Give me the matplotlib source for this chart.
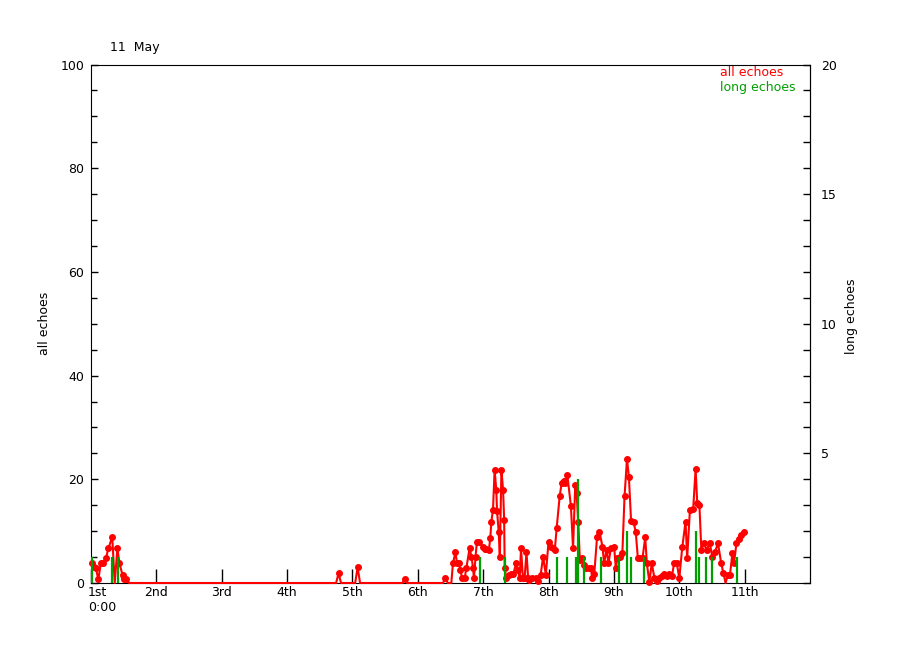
import numpy as np
import matplotlib
matplotlib.use('Agg')
import matplotlib.pyplot as plt
import matplotlib.transforms as mtransforms
from matplotlib.ticker import MultipleLocator, FuncFormatter

# all echoes: time (hours since 1st 0:00) and counts
t_all = [0.2, 1.1, 1.8, 2.7, 3.6, 4.5, 5.5, 6.4, 7.8, 8.7, 9.7, 10.4, 11.6, 12.1, 12.9, 14.0,
         90.0, 90.9, 91.8, 97.0, 97.9, 98.8, 114.3, 115.2, 116.1, 129.2, 130.1, 131.0, 132.3,
         132.9, 133.8, 134.4, 135.1, 135.6, 136.3, 137.2, 137.8, 139.0, 139.7, 140.3, 140.6,
         141.2, 141.7, 142.6, 143.9, 144.5, 145.1, 146.1, 146.6, 147.0, 147.6, 148.2, 148.8,
         149.1, 149.7, 150.1, 150.7, 151.3, 151.7, 151.9, 152.5, 153.3, 154.2, 155.1, 156.1,
         156.8, 157.4, 157.9, 158.6, 159.2, 159.9, 160.5, 161.0, 162.1, 163.3, 164.2, 165.1,
         166.0, 167.0, 168.0, 168.8, 169.7, 170.3, 171.0, 172.1, 172.8, 173.5, 174.1, 174.9,
         176.2, 177.0, 177.8, 178.3, 178.9, 179.5, 180.2, 181.1, 181.9, 182.9, 183.5, 184.1,
         184.8, 185.8, 186.7, 187.8, 188.4, 189.3, 190.0, 190.9, 192.1, 192.7, 193.3, 194.3,
         195.1, 195.9, 196.8, 197.5, 198.3, 199.2, 200.0, 200.8, 201.6, 202.5, 203.5, 204.1,
         205.0, 205.9, 206.9, 207.8, 208.6, 209.6, 210.5, 211.4, 212.3, 213.3, 214.1, 215.1,
         216.0, 217.1, 218.3, 218.9, 219.9, 221.1, 222.0, 222.6, 223.4, 224.1, 225.0, 226.0,
         227.2, 228.1, 229.1, 230.2, 231.4, 232.2, 233.0, 233.8, 234.6, 235.5, 236.1, 237.0,
         237.9, 238.8, 239.7]
n_all = [3.9, 3.0, 2.8, 0.7, 3.8, 3.8, 4.8, 6.7, 8.9, 0.0, 6.7, 3.9, 1.5, 0.8, 0.8, 0.0,
         0.0, 1.9, 0.0, 0.0, 3.0, 0.0, 0.0, 0.7, 0.0, 0.0, 0.9, 0.0, 0.0,
         3.8, 5.9, 3.8, 3.8, 2.5, 0.9, 0.9, 2.8, 6.7, 5.1, 2.8, 0.9,
         5.1, 8.0, 8.0, 6.9, 6.5, 6.5, 6.4, 8.6, 11.8, 14.1, 21.8, 18.0,
         13.8, 9.9, 5.1, 21.8, 18.0, 12.2, 2.8, 0.9, 1.6, 1.8, 1.8, 3.8,
         2.5, 0.9, 6.7, 0.9, 0.9, 5.9, 1.0, 0.6, 0.9, 0.9, 0.3, 1.6,
         5.0, 1.6, 8.0, 7.0, 6.7, 6.4, 10.7, 16.8, 19.2, 19.7, 19.2, 20.8,
         14.9, 6.7, 18.9, 17.3, 11.8, 4.4, 4.8, 3.5, 2.8, 2.8, 2.8, 0.9,
         1.8, 8.8, 9.9, 7.0, 3.8, 6.4, 3.8, 6.7, 6.9, 2.8, 4.8, 5.0,
         5.7, 16.7, 23.9, 20.5, 12.0, 11.8, 9.9, 4.8, 4.8, 4.8, 8.8, 3.8,
         0.2, 3.8, 0.9, 0.3, 0.9, 1.3, 1.7, 1.3, 1.7, 1.3, 3.8, 3.8,
         0.9, 6.9, 11.8, 4.8, 14.0, 14.2, 22.0, 15.4, 15.0, 6.4, 7.7, 6.4,
         7.7, 5.1, 5.9, 7.7, 3.8, 1.9, 0.0, 1.5, 1.5, 5.7, 3.8, 7.7,
         8.5, 9.3, 9.9]

# long echoes: time (hours) and counts
t_long = [0.3, 7.8, 10.0, 143.0, 152.0, 171.0, 174.8, 178.0, 178.9, 181.0, 187.1,
          194.0, 196.9, 198.1, 203.0, 222.0, 223.2, 225.9, 228.1, 237.3]
n_long = [1, 1, 1, 1, 1, 1, 1, 1, 4, 1, 1, 1, 2, 1, 1, 2, 1, 1, 1, 1]

day_labels = ['1st', '2nd', '3rd', '4th', '5th', '6th', '7th', '8th', '9th', '10th', '11th']

RED = '#ff0000'
GREEN = '#00a000'

fig = plt.figure(figsize=(9, 6.5), dpi=100)
ax = fig.add_axes([91/900, 67/650, 719/900, 518.5/650])
ax2 = ax.twinx()

x_all = np.array(t_all) / 24.0
y_all = np.array(n_all)
ax.plot(x_all, y_all, color=RED, lw=1.5, marker='o', ms=4, markevery=list(y_all > 0),
        clip_on=False, zorder=3)

ax2.vlines(np.array(t_long) / 24.0, 0, n_long, color=GREEN, lw=1.6)

ax.set_xlim(0, 11)
ax.set_ylim(0, 100)
ax2.set_ylim(0, 20)

ax.set_xticks(range(len(day_labels)))
ax.set_xticklabels(day_labels)
ax.tick_params(axis='x', direction='in', length=10, width=1, pad=2, labelsize=9, top=False)
# nudge the first day label right so it clears the "0" of the y axis
first = ax.get_xticklabels()[0]
first.set_transform(first.get_transform() +
                    mtransforms.ScaledTranslation(6/100, 0, fig.dpi_scale_trans))

ax.yaxis.set_major_locator(MultipleLocator(20))
ax.yaxis.set_minor_locator(MultipleLocator(5))
ax.tick_params(axis='y', which='major', direction='in', length=5, width=1, pad=5, labelsize=9)
ax.tick_params(axis='y', which='minor', direction='in', length=4, width=1)

ax2.yaxis.set_major_locator(MultipleLocator(5))
ax2.yaxis.set_minor_locator(MultipleLocator(1))
ax2.yaxis.set_major_formatter(FuncFormatter(lambda v, p: '' if v == 0 else '%d' % v))
ax2.tick_params(axis='y', which='major', direction='in', length=5, width=1, pad=8, labelsize=9)
ax2.tick_params(axis='y', which='minor', direction='in', length=5, width=1)
for s in ['bottom', 'left', 'top']:
    ax2.spines[s].set_visible(False)

ax.annotate('0:00', xy=(0, 0), xycoords='data', xytext=(11, -18), textcoords='offset pixels',
            ha='center', va='top', fontsize=9)

fig.text(45/900, 1 - 323/650, 'all echoes', rotation=90, ha='center', va='center', fontsize=9)
fig.text(852/900, 1 - 316/650, 'long echoes', rotation=90, ha='center', va='center', fontsize=9)
fig.text(110/900, 1 - 47/650, '11  May', ha='left', va='center', fontsize=9)
fig.text(720/900, 1 - 73/650, 'all echoes', color=RED, ha='left', va='center', fontsize=9)
fig.text(720/900, 1 - 87/650, 'long echoes', color=GREEN, ha='left', va='center', fontsize=9)

fig.savefig('out.png', dpi=100, facecolor='white')
